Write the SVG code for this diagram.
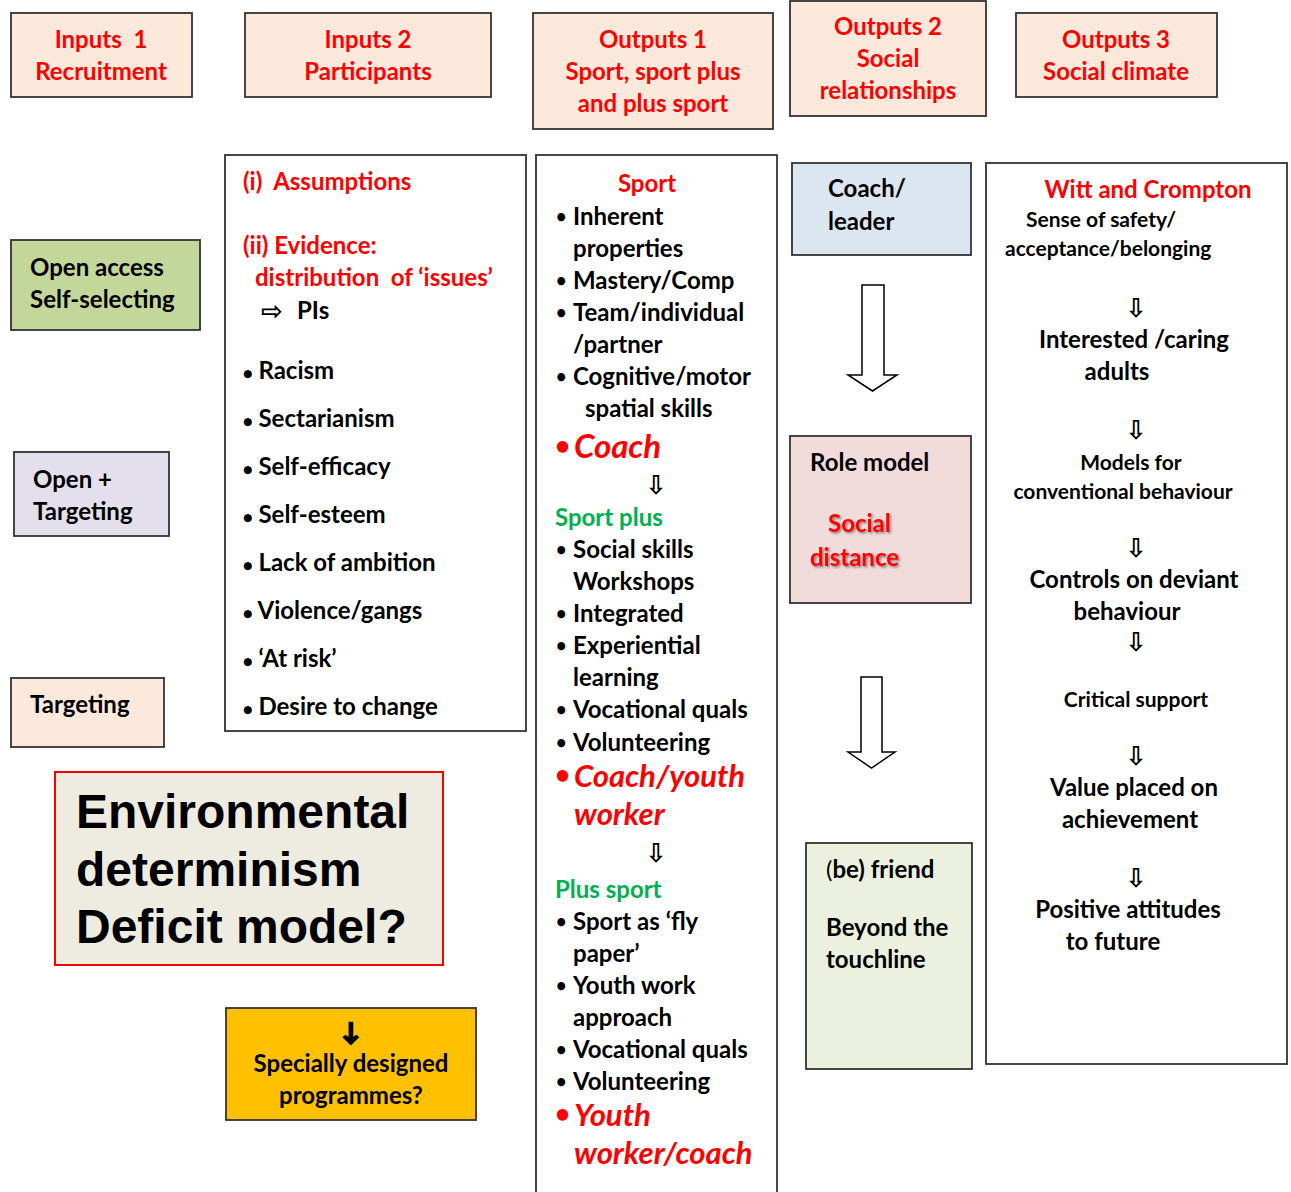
<svg xmlns="http://www.w3.org/2000/svg" width="1291" height="1192" viewBox="0 0 1291 1192">
<style>
text{font-family:Lato,"Open Sans","Liberation Sans",sans-serif;font-weight:bold;font-size:24px;fill:#000;white-space:pre}
.red{fill:#ff0000}
.grn{fill:#00b050}
.c{text-anchor:middle}
.s{font-size:21px}
.it{font-style:italic;font-size:33px;fill:#ff0000}
.it2{font-style:italic;font-size:31px;fill:#ff0000}
.b{font-size:18px}
.rb{font-size:26px;fill:#ff0000}
.big{font-family:"Liberation Sans",Arial,sans-serif;font-size:48px}
.arr{font-family:"DejaVu Sans",sans-serif;font-weight:bold;font-size:26px}
.box{stroke:#333;stroke-width:1.8}
.peach{fill:#fce9db}
</style>
<defs>
<filter id="sh" x="-10%" y="-10%" width="130%" height="140%">
<feDropShadow dx="1.5" dy="1.5" stdDeviation="0.8" flood-color="#000" flood-opacity="0.45"/>
</filter>
</defs>

<g id="inputs1"><rect class="box peach" x="11" y="13" width="181" height="84"/>
<text class="red c" x="101" y="48">Inputs  1</text><text class="red c" x="101" y="80">Recruitment</text></g>
<g id="inputs2"><rect class="box peach" x="245" y="13" width="246" height="84"/>
<text class="red c" x="368" y="48">Inputs 2</text><text class="red c" x="368" y="80">Participants</text></g>
<g id="outputs1"><rect class="box peach" x="533" y="13" width="240" height="116"/>
<text class="red c" x="653" y="48">Outputs 1</text><text class="red c" x="653" y="80">Sport, sport plus</text><text class="red c" x="653" y="112">and plus sport</text></g>
<g id="outputs2"><rect class="box peach" x="790" y="1" width="196" height="115"/>
<text class="red c" x="888" y="35">Outputs 2</text><text class="red c" x="888" y="67">Social</text><text class="red c" x="888" y="99">relationships</text></g>
<g id="outputs3"><rect class="box peach" x="1016" y="13" width="201" height="84"/>
<text class="red c" x="1116" y="48">Outputs 3</text><text class="red c" x="1116" y="80">Social climate</text></g>

<g id="open-access"><rect class="box" fill="#c4d79b" x="11" y="240" width="189" height="90"/>
<text x="30" y="276">Open access</text><text x="30" y="308">Self-selecting</text></g>
<g id="open-targeting"><rect class="box" fill="#e4dfec" x="14" y="452" width="155" height="84"/>
<text x="33" y="488">Open +</text><text x="33" y="520">Targeting</text></g>
<g id="targeting"><rect class="box peach" x="11" y="678" width="153" height="69"/>
<text x="30" y="713">Targeting</text></g>

<g id="assumptions"><rect class="box" fill="#fff" x="225" y="155" width="301" height="576"/>
<text class="red" x="243" y="190">(i)  Assumptions</text>
<text class="red" x="243" y="254">(ii) Evidence:</text>
<text class="red" x="255" y="286">distribution  of ‘issues’</text>
<text class="arr" x="261" y="320">⇨</text><text x="297" y="319">PIs</text>
<g font-size="22">
<text x="243" y="379"><tspan font-size="16">●</tspan> Racism</text>
<text x="243" y="427"><tspan font-size="16">●</tspan> Sectarianism</text>
<text x="243" y="475"><tspan font-size="16">●</tspan> Self-efficacy</text>
<text x="243" y="523"><tspan font-size="16">●</tspan> Self-esteem</text>
<text x="243" y="571"><tspan font-size="16">●</tspan> Lack of ambition</text>
<text x="243" y="619"><tspan font-size="16">●</tspan> Violence/gangs</text>
<text x="243" y="667"><tspan font-size="16">●</tspan> ‘At risk’</text>
<text x="243" y="715"><tspan font-size="16">●</tspan> Desire to change</text>
</g></g>

<g id="sport"><rect class="box" fill="#fff" x="536" y="155" width="241" height="1040"/>
<text class="red c" x="647" y="192">Sport</text>
<text class="b" x="556" y="223">•</text><text x="573" y="225">Inherent</text>
<text x="573" y="257">properties</text>
<text class="b" x="556" y="287">•</text><text x="573" y="289">Mastery/Comp</text>
<text class="b" x="556" y="319">•</text><text x="573" y="321">Team/individual</text>
<text x="573" y="353">/partner</text>
<text class="b" x="556" y="383">•</text><text x="573" y="385">Cognitive/motor</text>
<text x="585" y="417">spatial skills</text>
<text class="rb" x="555" y="455">•</text><text class="it" x="574" y="458">Coach</text>
<text class="arr c" x="656" y="494">⇩</text>
<text class="grn" x="555" y="526">Sport plus</text>
<text class="b" x="556" y="556">•</text><text x="573" y="558">Social skills</text>
<text x="573" y="590">Workshops</text>
<text class="b" x="556" y="620">•</text><text x="573" y="622">Integrated</text>
<text class="b" x="556" y="652">•</text><text x="573" y="654">Experiential</text>
<text x="573" y="686">learning</text>
<text class="b" x="556" y="716">•</text><text x="573" y="718">Vocational quals</text>
<text class="b" x="556" y="749">•</text><text x="573" y="751">Volunteering</text>
<text class="rb" x="555" y="784">•</text><text class="it2" x="574" y="787">Coach/youth</text>
<text class="it2" x="574" y="825">worker</text>
<text class="arr c" x="656" y="862">⇩</text>
<text class="grn" x="555" y="898">Plus sport</text>
<text class="b" x="556" y="928">•</text><text x="573" y="930">Sport as ‘fly</text>
<text x="573" y="962">paper’</text>
<text class="b" x="556" y="992">•</text><text x="573" y="994">Youth work</text>
<text x="573" y="1026">approach</text>
<text class="b" x="556" y="1056">•</text><text x="573" y="1058">Vocational quals</text>
<text class="b" x="556" y="1088">•</text><text x="573" y="1090">Volunteering</text>
<text class="rb" x="555" y="1123">•</text><text class="it2" x="574" y="1126">Youth</text>
<text class="it2" x="574" y="1164">worker/coach</text>
</g>

<g id="coach-leader"><rect class="box" fill="#dce6f1" x="792" y="163" width="179" height="92"/>
<text x="828" y="197">Coach/</text><text x="828" y="230">leader</text></g>
<g id="role-model"><rect class="box" fill="#f2dcdb" x="790" y="436" width="181" height="167"/>
<text x="810" y="471">Role model</text>
<text class="red" filter="url(#sh)" x="828" y="532">Social</text>
<text class="red" filter="url(#sh)" x="810" y="566">distance</text></g>
<g id="befriend"><rect class="box" fill="#ebf1de" x="806" y="843" width="166" height="226"/>
<text x="826" y="878"><tspan font-weight="normal">(</tspan>be) friend</text>
<text x="826" y="936">Beyond the</text><text x="826" y="968">touchline</text></g>

<g id="witt"><rect class="box" fill="#fff" x="986" y="163" width="301" height="901"/>
<text class="red c" x="1148" y="198">Witt and Crompton</text>
<text class="s" x="1026" y="227">Sense of safety/</text>
<text class="s" x="1005" y="256">acceptance/belonging</text>
<text class="arr c" x="1136" y="317">⇩</text>
<text class="c" x="1134" y="348">Interested /caring</text>
<text class="c" x="1117" y="380">adults</text>
<text class="arr c" x="1136" y="439">⇩</text>
<text class="s c" x="1131" y="470">Models for</text>
<text class="s c" x="1123" y="499">conventional behaviour</text>
<text class="arr c" x="1136" y="557">⇩</text>
<text class="c" x="1134" y="588">Controls on deviant</text>
<text class="c" x="1127" y="620">behaviour</text>
<text class="arr c" x="1136" y="651">⇩</text>
<text class="s c" x="1136" y="707">Critical support</text>
<text class="arr c" x="1136" y="765">⇩</text>
<text class="c" x="1134" y="796">Value placed on</text>
<text class="c" x="1130" y="828">achievement</text>
<text class="arr c" x="1136" y="887">⇩</text>
<text class="c" x="1128" y="918">Positive attitudes</text>
<text class="c" x="1113" y="950">to future</text></g>

<g id="environmental"><rect fill="#eeece1" stroke="#ff0000" stroke-width="2" x="55" y="772" width="388" height="193"/>
<text class="big" x="76" y="828">Environmental</text>
<text class="big" x="76" y="886">determinism</text>
<text class="big" x="76" y="943">Deficit model?</text></g>

<g id="specially"><rect class="box" fill="#ffc000" x="226" y="1008" width="250" height="112"/>
<text class="c" font-family="DejaVu Sans" font-size="24" stroke="#000" stroke-width="2" x="351" y="1040">↓</text>
<text class="c" x="351" y="1072">Specially designed</text>
<text class="c" x="351" y="1104">programmes?</text></g>

<g id="connectors" fill="#fff" stroke="#000" stroke-width="1.5">
<path d="M862,285 H884 V375 H897 L872.5,391 L848,375 H862 Z"/>
<path d="M861,677 H882 V752 H895 L871.5,768 L848,752 H861 Z"/>
</g>
</svg>
